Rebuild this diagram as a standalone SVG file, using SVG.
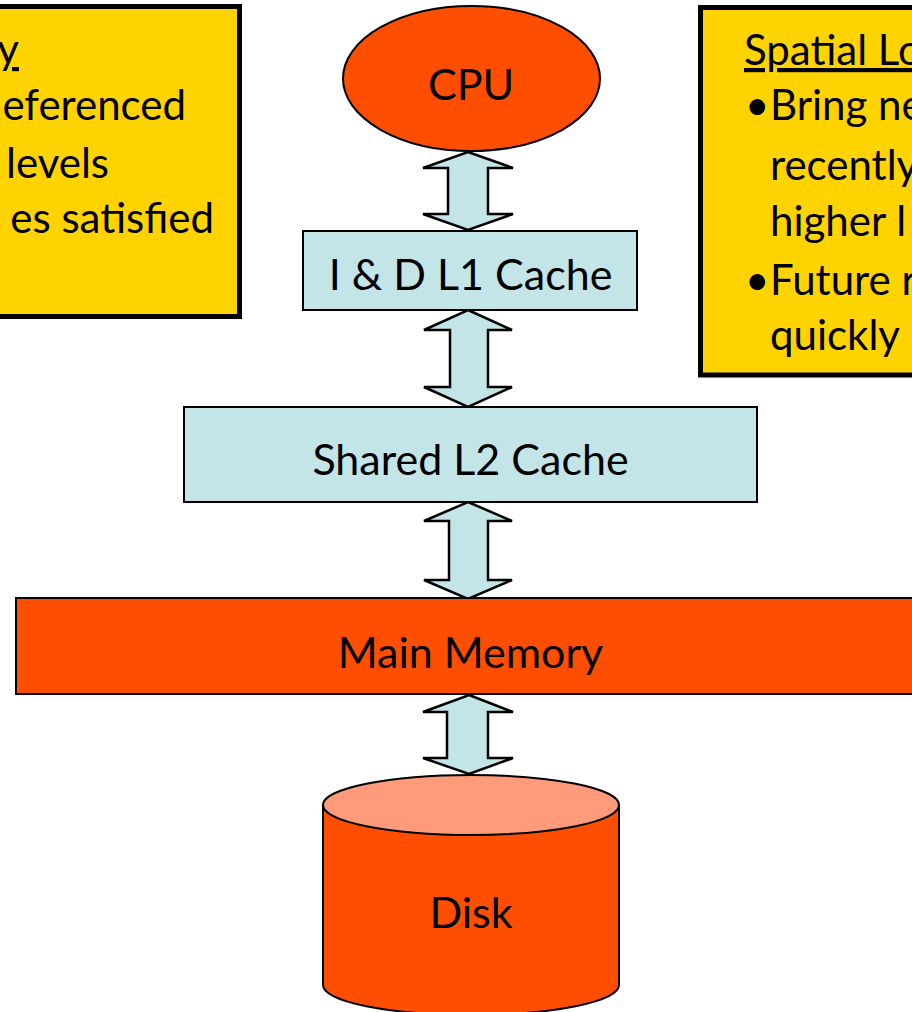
<svg xmlns="http://www.w3.org/2000/svg" width="912" height="1012" viewBox="0 0 912 1012">
<style>
.note{fill:#FFD300;stroke:#000;stroke-width:5}
.ntext{font-family:Lato,"Open Sans",sans-serif;font-size:42px;fill:#000}
.lbl{font-family:Lato,"Open Sans",sans-serif;font-size:43px;fill:#000;text-anchor:middle}
.cache{fill:#C4E5E8;stroke:#000;stroke-width:2}
.hot{fill:#FF4E00;stroke:#000;stroke-width:2}
.arr{fill:#C4E5E8;stroke:#000;stroke-width:2.5;stroke-linejoin:miter}
</style>
<rect width="912" height="1012" fill="#fff"/>
<g id="temporal-note">
<rect class="note" x="-60" y="6.5" width="299.5" height="310"/>
<text class="ntext" text-anchor="end" x="19" y="64" text-decoration="underline">y</text>
<text class="ntext" text-anchor="end" x="186" y="120">eferenced</text>
<text class="ntext" text-anchor="end" x="109" y="178">levels</text>
<text class="ntext" text-anchor="end" x="214" y="233">es satisfied</text>
</g>
<g id="spatial-note">
<rect class="note" x="700.5" y="7.5" width="260" height="367.5"/>
<text class="ntext" x="744" y="65" text-decoration="underline">Spatial Lo</text>
<text class="ntext" x="745" y="120">•</text>
<text class="ntext" x="770" y="120">Bring ne</text>
<text class="ntext" x="770" y="180">recently</text>
<text class="ntext" x="770" y="236">higher l</text>
<text class="ntext" x="745" y="295">•</text>
<text class="ntext" x="770" y="295">Future r</text>
<text class="ntext" x="770" y="350">quickly</text>
</g>
<g id="connectors">
<path class="arr" d="M468,152 L513,168 L488,168 L488,214 L513,214 L468,230 L423,214 L448,214 L448,168 L423,168 Z"/>
<path class="arr" d="M468,310 L512,330 L488,330 L488,387 L512,387 L468,407 L424,387 L450,387 L450,330 L424,330 Z"/>
<path class="arr" d="M468,502 L512,521 L488,521 L488,580 L512,580 L468,599 L424,580 L449,580 L449,521 L424,521 Z"/>
<path class="arr" d="M469,695 L513,712 L488,712 L488,758 L513,758 L469,774 L423,758 L447,758 L447,712 L423,712 Z"/>
</g>
<g id="cpu">
<ellipse class="hot" cx="471.5" cy="78.5" rx="128.5" ry="72.5"/>
<text class="lbl" x="471" y="100">CPU</text>
</g>
<g id="l1-cache">
<rect class="cache" x="303" y="231" width="334" height="79"/>
<text class="lbl" x="470.5" y="290">I &amp; D L1 Cache</text>
</g>
<g id="l2-cache">
<rect class="cache" x="184" y="407" width="573" height="95"/>
<text class="lbl" x="470.5" y="475">Shared L2 Cache</text>
</g>
<g id="main-memory">
<rect class="hot" x="16" y="598" width="940" height="96" stroke-width="3"/>
<text class="lbl" x="470.5" y="668" font-size="44">Main Memory</text>
</g>
<g id="disk">
<path class="hot" d="M323,805 L323,985 A148,30 0 0 0 619,985 L619,805 Z"/>
<ellipse cx="471" cy="805" rx="148" ry="30" fill="#FF9B7A" stroke="#000" stroke-width="2"/>
<text class="lbl" x="471" y="928">Disk</text>
</g>
</svg>
